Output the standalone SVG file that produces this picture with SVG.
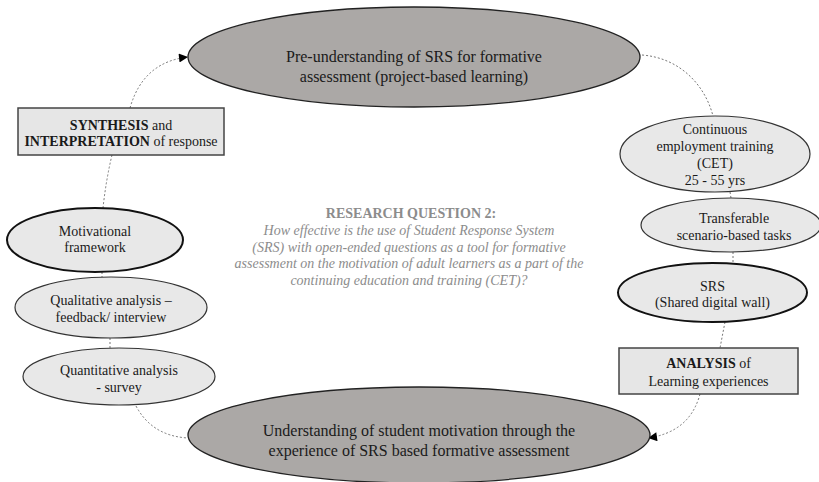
<svg xmlns="http://www.w3.org/2000/svg" width="819" height="482" viewBox="0 0 819 482">
<style>
  text { font-family: "Liberation Serif", "Times New Roman", serif; fill: #1a1a1a; text-anchor: middle; }
  .big { font-size: 16px; }
  .sm { font-size: 14px; }
  .b { font-weight: bold; }
  .main { fill: #aba8a6; stroke: #222; stroke-width: 1.3; }
  .node { fill: #e8e8e8; stroke: #333; stroke-width: 1.2; }
  .node2 { fill: #e8e8e8; stroke: #111; stroke-width: 2; }
  .box { fill: #e6e6e6; stroke: #444; stroke-width: 1.5; }
  .conn { fill: none; stroke: #777; stroke-width: 1; stroke-dasharray: 2 2; }
  .rq { fill: #8c8c8c; font-size: 14px; }
</style>
<defs>
  <marker id="arr" viewBox="0 0 10 10" refX="10" refY="5" markerWidth="10" markerHeight="9" markerUnits="userSpaceOnUse" orient="auto">
    <path d="M0,0 L10,5 L0,10 z" fill="#000"/>
  </marker>
</defs>

<g id="connectors">
  <path class="conn" d="M130,108 Q143,62 188,57" marker-end="url(#arr)"/>
  <path class="conn" d="M112,155 Q106,180 103,208"/>
  <path class="conn" d="M102,272 L102,277"/>
  <path class="conn" d="M110,338 L110,348"/>
  <path class="conn" d="M136,406 Q152,436 188,438"/>
  <path class="conn" d="M642,55 C680,58 705,85 713,116"/>
  <path class="conn" d="M730,192 L731,198"/>
  <path class="conn" d="M733,252 L733,263"/>
  <path class="conn" d="M725,322 L720,348"/>
  <path class="conn" d="M700,394 Q690,432 648,438" marker-end="url(#arr)"/>
</g>

<g id="top-ellipse">
  <ellipse class="main" cx="414" cy="57" rx="226" ry="50"/>
  <text class="big" x="414" y="62">Pre-understanding of SRS for formative</text>
  <text class="big" x="414" y="82">assessment (project-based learning)</text>
</g>

<g id="bottom-ellipse">
  <ellipse class="main" cx="419" cy="435" rx="231" ry="48"/>
  <text class="big" x="419" y="436">Understanding of student motivation through the</text>
  <text class="big" x="419" y="456">experience of SRS based formative assessment</text>
</g>

<g id="synthesis">
  <rect class="box" x="18" y="108" width="206" height="47"/>
  <text class="sm" x="121" y="130"><tspan class="b">SYNTHESIS</tspan> and</text>
  <text class="sm" x="121" y="146"><tspan class="b">INTERPRETATION</tspan> of response</text>
</g>

<g id="motivational">
  <ellipse class="node2" cx="95" cy="240" rx="88" ry="32"/>
  <text class="sm" x="95" y="236">Motivational</text>
  <text class="sm" x="95" y="252">framework</text>
</g>

<g id="qualitative">
  <ellipse class="node" cx="111" cy="307.5" rx="96" ry="30.5"/>
  <text class="sm" x="111" y="305">Qualitative analysis –</text>
  <text class="sm" x="111" y="322">feedback/ interview</text>
</g>

<g id="quantitative">
  <ellipse class="node" cx="119" cy="376.5" rx="96" ry="28.5"/>
  <text class="sm" x="119" y="375">Quantitative analysis</text>
  <text class="sm" x="119" y="392">- survey</text>
</g>

<g id="research-question">
  <text class="rq b" x="411" y="218">RESEARCH QUESTION 2:</text>
  <text class="rq" font-style="italic" x="409" y="235">How effective is the use of Student Response System</text>
  <text class="rq" font-style="italic" x="409" y="251.5">(SRS) with open-ended questions as a tool for formative</text>
  <text class="rq" font-style="italic" x="409" y="268">assessment on the motivation of adult learners as a part of the</text>
  <text class="rq" font-style="italic" x="409" y="285">continuing education and training (CET)?</text>
</g>

<g id="cet">
  <ellipse class="node" cx="715" cy="154" rx="95" ry="38"/>
  <text class="sm" x="715" y="134">Continuous</text>
  <text class="sm" x="715" y="151">employment training</text>
  <text class="sm" x="715" y="168">(CET)</text>
  <text class="sm" x="715" y="185">25 - 55 yrs</text>
</g>

<g id="transferable">
  <ellipse class="node" cx="731" cy="225" rx="90" ry="27"/>
  <text class="sm" x="734" y="223">Transferable</text>
  <text class="sm" x="734" y="240">scenario-based tasks</text>
</g>

<g id="srs">
  <ellipse class="node2" cx="712.5" cy="292.5" rx="94.5" ry="29.5"/>
  <text class="sm" x="712.5" y="291">SRS</text>
  <text class="sm" x="712.5" y="307">(Shared digital wall)</text>
</g>

<g id="analysis">
  <rect class="box" x="619" y="348" width="179" height="46"/>
  <text class="sm" x="708.5" y="368"><tspan class="b">ANALYSIS</tspan> of</text>
  <text class="sm" x="708.5" y="386">Learning experiences</text>
</g>
</svg>
